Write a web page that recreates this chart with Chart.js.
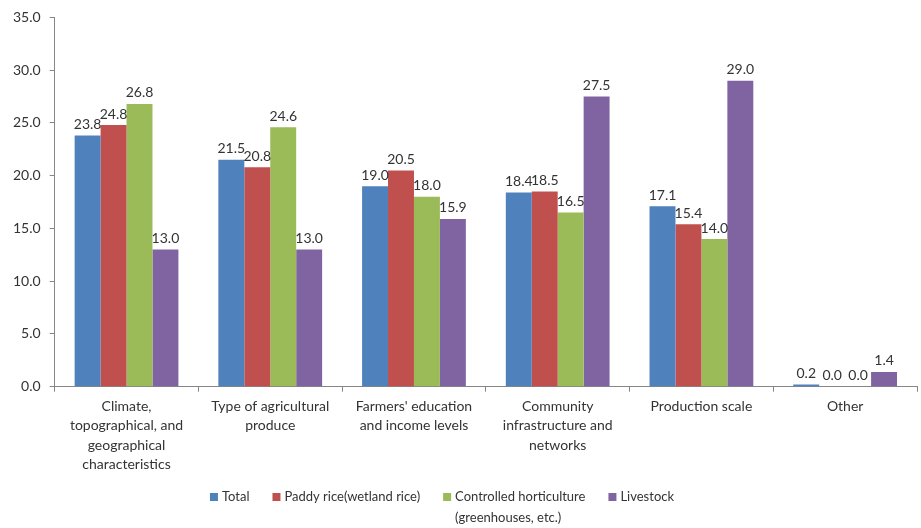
<!DOCTYPE html>
<html>
<head>
<meta charset="utf-8">
<script src="https://cdn.jsdelivr.net/npm/chart.js@4"></script>
<style>
  html, body { margin: 0; padding: 0; background: #fff; }
  #wrap { width: 921px; height: 528px; }
</style>
</head>
<body>
<div id="wrap"><canvas id="chart" width="921" height="528"></canvas></div>
<script>
const categories = [
  ['Climate,', 'topographical, and', 'geographical', 'characteristics'],
  ['Type of agricultural', 'produce'],
  ["Farmers' education", 'and income levels'],
  ['Community', 'infrastructure and', 'networks'],
  ['Production scale'],
  ['Other']
];
const seriesNames = ['Total', 'Paddy rice(wetland rice)', ['Controlled horticulture', '(greenhouses, etc.)'], 'Livestock'];
const totalValues = [23.8, 21.5, 19.0, 18.4, 17.1, 0.2];
const paddyValues = [24.8, 20.8, 20.5, 18.5, 15.4, 0.0];
const hortiValues = [26.8, 24.6, 18.0, 16.5, 14.0, 0.0];
const livestockValues = [13.0, 13.0, 15.9, 27.5, 29.0, 1.4];
const yTicks = [0, 5, 10, 15, 20, 25, 30, 35];

const colors = ['#4F81BD', '#C0504D', '#9BBB59', '#8064A2'];
const FONT = 'Lato, "Open Sans", sans-serif';
const TEXT = '#333333';

// value labels above each bar
const valueLabels = {
  id: 'valueLabels',
  afterDatasetsDraw(chart) {
    const ctx = chart.ctx;
    ctx.save();
    ctx.font = '14px ' + FONT;
    ctx.fillStyle = TEXT;
    ctx.textAlign = 'center';
    ctx.textBaseline = 'bottom';
    chart.data.datasets.forEach((ds, i) => {
      chart.getDatasetMeta(i).data.forEach((bar, j) => {
        ctx.fillText(ds.data[j].toFixed(1), bar.x, bar.y - 4);
      });
    });
    ctx.restore();
  }
};

// bottom legend, with a two-line entry
const bottomLegend = {
  id: 'bottomLegend',
  afterDraw(chart) {
    const ctx = chart.ctx;
    ctx.save();
    ctx.font = '13px ' + FONT;
    ctx.textBaseline = 'middle';
    ctx.textAlign = 'left';
    const y = 497, box = 8, gap = 4, spacing = 23;
    const widths = chart.data.datasets.map(ds => {
      const lines = [].concat(ds.label);
      return box + gap + Math.max(...lines.map(l => ctx.measureText(l).width));
    });
    const total = widths.reduce((a, b) => a + b, 0) + spacing * (widths.length - 1);
    let x = 442 - total / 2;
    chart.data.datasets.forEach((ds, i) => {
      ctx.fillStyle = ds.backgroundColor;
      ctx.fillRect(x, y - box / 2, box, box);
      ctx.fillStyle = TEXT;
      [].concat(ds.label).forEach((line, k) => {
        ctx.fillText(line, x + box + gap, y + k * 21);
      });
      x += widths[i] + spacing;
    });
    ctx.restore();
  }
};

const datasets = [totalValues, paddyValues, hortiValues, livestockValues].map((vals, i) => ({
  label: seriesNames[i],
  data: vals,
  backgroundColor: colors[i],
  borderWidth: 0,
  categoryPercentage: 0.722,
  barPercentage: 1.0
}));

new Chart(document.getElementById('chart'), {
  type: 'bar',
  data: { labels: categories, datasets },
  plugins: [valueLabels, bottomLegend],
  options: {
    responsive: false,
    animation: false,
    layout: { padding: { top: 16, right: 4, bottom: 49, left: 4 } },
    plugins: { legend: { display: false }, tooltip: { enabled: false } },
    scales: {
      x: {
        grid: { display: true, drawOnChartArea: false, drawTicks: true, tickLength: 5, color: '#868686', offset: true },
        border: { display: true, color: '#868686' },
        ticks: { color: TEXT, font: { family: FONT, size: 14, lineHeight: 1.38 }, padding: 5, maxRotation: 0, autoSkip: false }
      },
      y: {
        min: 0, max: 35,
        afterBuildTicks(axis) { axis.ticks = yTicks.map(v => ({ value: v })); },
        grid: { display: true, drawOnChartArea: false, drawTicks: true, tickLength: 5, color: '#868686' },
        border: { display: true, color: '#868686' },
        ticks: { color: TEXT, font: { family: FONT, size: 14 }, padding: 9, callback: v => v.toFixed(1) }
      }
    }
  }
});
</script>
</body>
</html>
